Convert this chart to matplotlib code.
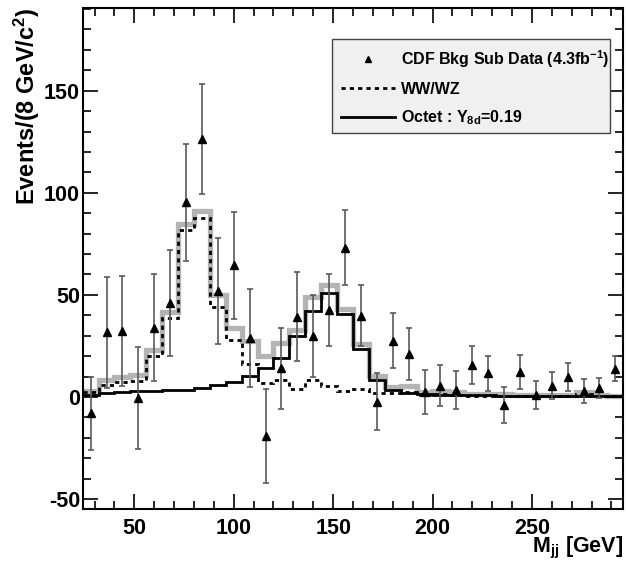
import numpy as np
import matplotlib

matplotlib.use("Agg")
import matplotlib.pyplot as plt
from matplotlib.lines import Line2D
from matplotlib.patches import Rectangle
from matplotlib.ticker import MultipleLocator

plt.rcParams["font.family"] = ["Liberation Sans", "DejaVu Sans"]
plt.rcParams["font.weight"] = "bold"
plt.rcParams["axes.unicode_minus"] = False
plt.rcParams["mathtext.fontset"] = "custom"
plt.rcParams["mathtext.rm"] = "Liberation Sans:bold"
plt.rcParams["mathtext.bf"] = "Liberation Sans:bold"
plt.rcParams["mathtext.default"] = "bf"

# bin edges (8 GeV bins from 24 to 296 GeV)
bin_edges = np.arange(24, 297, 8)
bin_centers = bin_edges[:-1] + 4

# background-subtracted data
data_y = [-8, 31.6, 32.4, -0.5, 34, 46, 95.3, 126.3, 51.8, 64.4, 29, -19.2,
          14, 39.4, 30, 42.6, 73.2, 39.8, -2.3, 27.6, 21.1, 2.3, 5.5, 3.5,
          15.5, 11.5, -3.9, 12.3, 1.0, 5.5, 9.8, 2.9, 4.5, 13.9]
data_err = [18, 27, 27, 25, 26, 26, 28.5, 27, 26, 26, 24, 23, 20, 22, 20,
            17.5, 18.5, 15, 14, 13.5, 12.7, 10.7, 10, 9.3, 9.3, 8.5, 9, 8.5,
            6.7, 6.7, 6.8, 6, 5, 6]

wwwz = [2.5, 6.0, 7.4, 8.0, 20.0, 38.5, 82.0, 87.5, 44.0, 28.0, 16.0, 7.0,
        8.5, 3.8, 8.5, 5.5, 2.8, 4.0, 1.8, 1.8, 2.2, 1.2, 1.5, 0.8, 0.6, 0.5,
        0.6, 0.5, 0.3, 0.4, 0.5, 1.5, 0.4, 0.3]
octet = [1.0, 2.0, 2.5, 3.0, 3.0, 3.2, 3.5, 4.5, 6.0, 7.5, 10.5, 14.0, 19.0,
         30.0, 42.0, 51.0, 40.5, 23.5, 8.5, 3.5, 2.0, 1.5, 1.0, 1.0, 0.8, 0.8,
         0.7, 0.7, 0.5, 0.5, 0.5, 0.4, 0.4, 0.4]
total = [3.0, 8.2, 9.8, 10.8, 22.9, 41.8, 84.5, 91.3, 49.9, 34.0, 27.3, 20.3,
         26.5, 32.9, 49.0, 55.0, 42.9, 26.0, 10.3, 4.7, 5.5, 2.6, 3.0, 2.5,
         1.5, 1.3, 1.3, 1.2, 0.8, 0.9, 1.0, 2.6, 0.8, 0.7]

fig = plt.figure(figsize=(6.26, 5.61), dpi=100)
ax = fig.add_axes([0.1321, 0.0922, 0.8636, 0.8935])

ax.stairs(total, bin_edges, color="#b4b4b4", linewidth=3.8, baseline=None)
ax.stairs(wwwz, bin_edges, color="black", linewidth=2.0,
          linestyle=(0, (1.5, 1.5)), baseline=None)
ax.stairs(octet, bin_edges, color="black", linewidth=2.0, baseline=None)
ax.errorbar(bin_centers, data_y, yerr=data_err, fmt="^", color="black",
            markersize=6, ecolor="#5a5a5a", elinewidth=1.2, capsize=2.5,
            capthick=1.2, zorder=5)

ax.set_xlim(24, 296)
ax.set_ylim(-55, 190.5)

ax.xaxis.set_major_locator(MultipleLocator(50))
ax.xaxis.set_minor_locator(MultipleLocator(10))
ax.yaxis.set_major_locator(MultipleLocator(50))
ax.yaxis.set_minor_locator(MultipleLocator(10))
ax.tick_params(which="both", direction="in", top=True, right=True,
               labelsize=15.5, width=1.2)
ax.tick_params(axis="y", which="major", length=11, pad=2)
ax.tick_params(axis="y", which="minor", length=5.5)
ax.tick_params(axis="x", which="major", length=11, pad=6)
ax.tick_params(axis="x", which="minor", length=5.5)
for spine in ax.spines.values():
    spine.set_linewidth(1.5)

ax.set_ylabel(r"Events/(8 GeV/c$^{2}$)", fontsize=17, fontweight="bold",
              loc="top")
ax.yaxis.set_label_coords(-0.076, 1.0)
ax.set_xlabel(r"M$_{jj}$ [GeV]", fontsize=15.5, fontweight="bold", loc="right")
ax.xaxis.set_label_coords(1.0, -0.052)

# legend box drawn as a patch so its size matches exactly
ax.add_patch(Rectangle((0.461, 0.751), 0.514, 0.187, transform=ax.transAxes,
                       facecolor="#f0f0f0", edgecolor="#444444",
                       linewidth=1.0, zorder=6))
handles = [
    Line2D([], [], marker="^", color="black", linestyle="none", markersize=5),
    Line2D([], [], color="black", linewidth=2.0, linestyle=(0, (1.5, 1.5))),
    Line2D([], [], color="black", linewidth=2.0),
]
labels = [r"CDF Bkg Sub Data (4.3fb$^{-1}$)", "WW/WZ",
          r"Octet : Y$_{8d}$=0.19"]
leg = ax.legend(handles, labels, loc="upper left",
                bbox_to_anchor=(0.461, 0.938), borderaxespad=0,
                fontsize=11.5, handlelength=3.4, handletextpad=0.4,
                labelspacing=0.75, borderpad=0.55, frameon=False)
leg.set_zorder(7)

fig.savefig("out.png", dpi=100)
